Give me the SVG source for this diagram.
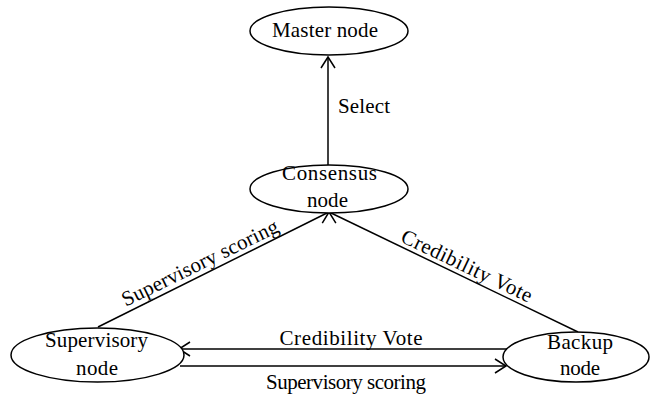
<svg xmlns="http://www.w3.org/2000/svg" width="651" height="398" viewBox="0 0 651 398">
<style>
.n{fill:#fff;stroke:#000;stroke-width:1.5}
.t{font-family:'Liberation Serif','Times New Roman',serif;font-size:21px;fill:#000;text-anchor:middle}
.c{stroke:#000;stroke-width:1.5;fill:none;marker-end:url(#ah)}
</style>
<defs>
<marker id="ah" markerUnits="userSpaceOnUse" markerWidth="14" markerHeight="16" viewBox="0 0 14 16" refX="12" refY="8" orient="auto">
<path d="M1,1 L12,8 L1,15" fill="none" stroke="#000" stroke-width="1.5"/>
</marker>
</defs>
<g id="connectors">
<line class="c" x1="328" y1="165" x2="328" y2="57"/>
<line class="c" x1="98" y1="327" x2="329" y2="212"/>
<line class="c" x1="578" y1="332" x2="329" y2="212"/>
<line class="c" x1="507" y1="349" x2="179" y2="349"/>
<line class="c" x1="180" y1="366" x2="506" y2="366"/>
<text class="t" x="364" y="113" textLength="52">Select</text>
<text class="t" x="351" y="345" textLength="143">Credibility Vote</text>
<text class="t" x="346" y="389" textLength="160">Supervisory scoring</text>
<text class="t" transform="translate(203,269) rotate(-26.1)" textLength="172">Supervisory scoring</text>
<text class="t" transform="translate(464,272) rotate(25.5)" textLength="143">Credibility Vote</text>
</g>
<g id="master">
<ellipse class="n" cx="329" cy="31" rx="79" ry="24"/>
<text class="t" x="325" y="37" textLength="106">Master node</text>
</g>
<g id="consensus">
<ellipse class="n" cx="329" cy="189" rx="79" ry="24"/>
<text class="t" x="329.5" y="180" textLength="95">Consensus</text>
<text class="t" x="327.5" y="207" textLength="41">node</text>
</g>
<g id="supervisory">
<ellipse class="n" cx="97.5" cy="355" rx="86.5" ry="27"/>
<text class="t" x="96.5" y="347" textLength="103">Supervisory</text>
<text class="t" x="97" y="375" textLength="42">node</text>
</g>
<g id="backup">
<ellipse class="n" cx="576" cy="357" rx="73" ry="25"/>
<text class="t" x="580" y="349" textLength="66">Backup</text>
<text class="t" x="580" y="375" textLength="40">node</text>
</g>
</svg>
